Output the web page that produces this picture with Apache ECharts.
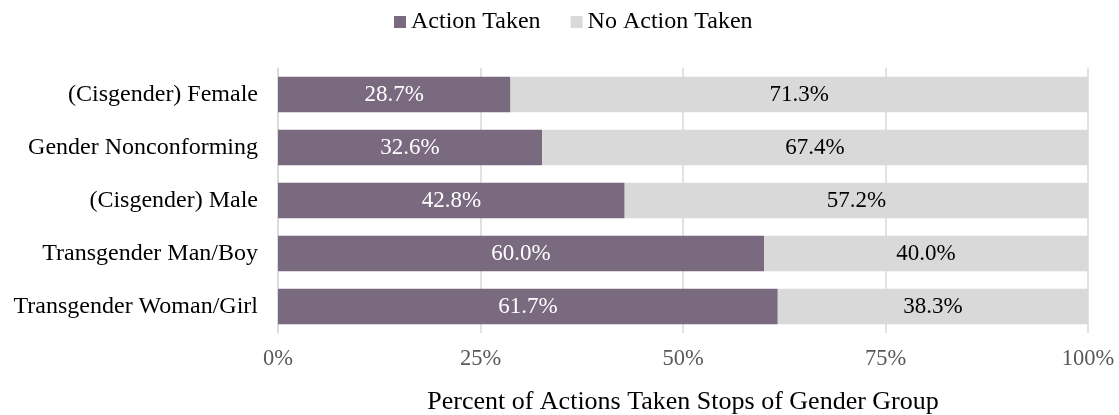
<!DOCTYPE html>
<html>
<head>
<meta charset="utf-8">
<script src="https://cdn.jsdelivr.net/npm/echarts@6/dist/echarts.min.js"></script>
<style>
  html, body { margin: 0; padding: 0; background: #fff; }
  #main { width: 1119px; height: 415px; }
</style>
</head>
<body>
<div id="main"></div>
<script>
// 类目（自下而上）
var categories = ['Transgender Woman/Girl', 'Transgender Man/Boy', '(Cisgender) Male', 'Gender Nonconforming', '(Cisgender) Female'];
// 数据
var actionTaken = [61.7, 60.0, 42.8, 32.6, 28.7];
var noActionTaken = [38.3, 40.0, 57.2, 67.4, 71.3];
var seriesNames = ['Action Taken', 'No Action Taken'];
var xTicks = [0, 25, 50, 75, 100];

var font = 'Liberation Serif';
var chart = echarts.init(document.getElementById('main'));

var option = {
  color: ['#796a80', '#d9d9d9'],
  textStyle: { fontFamily: font },
  legend: {
    top: 5,
    left: 389,
    itemWidth: 12,
    itemHeight: 12,
    itemGap: 30,
    icon: 'rect',
    textStyle: { fontFamily: font, fontSize: 24, color: '#000' },
    data: seriesNames
  },
  grid: { left: 278, right: 31, top: 68, bottom: 82, outerBoundsMode: 'none' },
  xAxis: {
    type: 'value',
    min: 0,
    max: 100,
    interval: 25,
    name: 'Percent of Actions Taken Stops of Gender Group',
    nameLocation: 'middle',
    nameGap: 56,
    nameTextStyle: { fontFamily: font, fontSize: 26, color: '#000' },
    axisLine: { show: false },
    axisTick: { show: false },
    axisLabel: {
      fontFamily: font, fontSize: 22.5, color: '#595959', margin: 15,
      formatter: function (v) { return xTicks.indexOf(v) >= 0 ? v + '%' : ''; }
    },
    splitLine: { lineStyle: { color: '#d9d9d9', width: 1.5 } }
  },
  yAxis: {
    type: 'category',
    data: categories,
    axisLine: { lineStyle: { color: '#d9d9d9', width: 1.5 } },
    axisTick: { show: false },
    axisLabel: { fontFamily: font, fontSize: 24, color: '#000', margin: 20 }
  },
  series: [
    {
      name: seriesNames[0],
      type: 'bar',
      stack: 'total',
      barWidth: '67%',
      data: actionTaken,
      label: {
        show: true, position: 'inside', color: '#fff',
        fontFamily: font, fontSize: 23,
        formatter: function (p) { return p.value.toFixed(1) + '%'; }
      }
    },
    {
      name: seriesNames[1],
      type: 'bar',
      stack: 'total',
      barWidth: '67%',
      data: noActionTaken,
      label: {
        show: true, position: 'inside', color: '#000',
        fontFamily: font, fontSize: 23,
        formatter: function (p) { return p.value.toFixed(1) + '%'; }
      }
    }
  ]
};

chart.setOption(option);
</script>
</body>
</html>
